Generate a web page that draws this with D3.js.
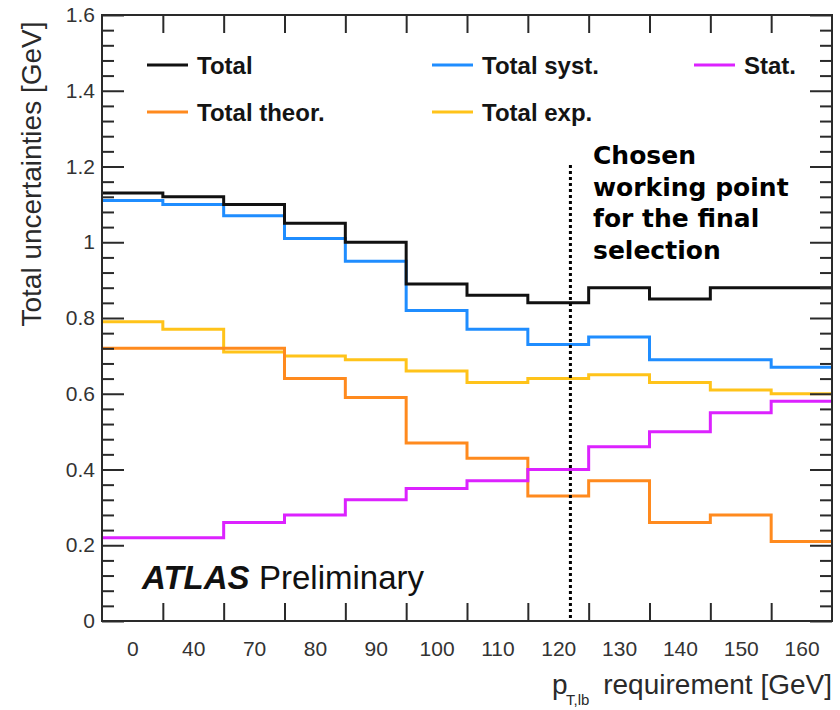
<!DOCTYPE html>
<html>
<head>
<meta charset="utf-8">
<script src="https://cdn.jsdelivr.net/npm/d3@7"></script>
<style>
  html, body { margin: 0; padding: 0; background: #fff; }
  svg { display: block; }
  .sans { font-family: "Liberation Sans", Arial, Helvetica, sans-serif; }
</style>
</head>
<body>
<svg id="chart" width="840" height="710"></svg>
<script>
// pT,lb requirement bins (labels drawn at bin centres)
const binLabels = ["0", "40", "70", "80", "90", "100", "110", "120", "130", "140", "150", "160"];

// Uncertainty components per bin [GeV]
const totalUnc = [1.13, 1.12, 1.10, 1.05, 1.00, 0.89, 0.86, 0.84, 0.88, 0.85, 0.88, 0.88];
const systUnc  = [1.11, 1.10, 1.07, 1.01, 0.95, 0.82, 0.77, 0.73, 0.75, 0.69, 0.69, 0.67];
const statUnc  = [0.22, 0.22, 0.26, 0.28, 0.32, 0.35, 0.37, 0.40, 0.46, 0.50, 0.55, 0.58];
const theorUnc = [0.72, 0.72, 0.72, 0.64, 0.59, 0.47, 0.43, 0.33, 0.37, 0.26, 0.28, 0.21];
const expUnc   = [0.79, 0.77, 0.71, 0.70, 0.69, 0.66, 0.63, 0.64, 0.65, 0.63, 0.61, 0.60];

const seriesNames = ["Total", "Total syst.", "Stat.", "Total theor.", "Total exp."];
const yTicks = [0, 0.2, 0.4, 0.6, 0.8, 1, 1.2, 1.4, 1.6];

// Chosen working point, in bin units along the x axis
const workingPoint = 7.7;

const colors = {
  "Total": "#111111",
  "Total syst.": "#1f8dff",
  "Stat.": "#dc22ff",
  "Total theor.": "#ff8a1e",
  "Total exp.": "#ffc31a"
};
const seriesData = {
  "Total": totalUnc,
  "Total syst.": systUnc,
  "Stat.": statUnc,
  "Total theor.": theorUnc,
  "Total exp.": expUnc
};

const svg = d3.select("#chart");
const L = 102, R = 832, T = 15, B = 621;
const frameColor = "#2a2a2a";

const x = d3.scaleLinear().domain([0, binLabels.length]).range([L, R]);
const y = d3.scaleLinear().domain([0, 1.6]).range([B, T]);

// ---- step histograms ----
const line = d3.line()
  .x(d => x(d[0]))
  .y(d => y(d[1]))
  .curve(d3.curveStepAfter);

const drawOrder = ["Total exp.", "Total theor.", "Stat.", "Total syst.", "Total"];
drawOrder.forEach(name => {
  const vals = seriesData[name];
  const pts = vals.map((v, i) => [i, v]);
  pts.push([vals.length, vals[vals.length - 1]]);
  svg.append("path")
    .attr("d", line(pts))
    .attr("fill", "none")
    .attr("stroke", colors[name])
    .attr("stroke-width", 3);
});

// ---- axes (ticks pointing inward, ROOT style) ----
const edges = d3.range(1, binLabels.length);
const minorY = d3.range(0, 81).map(i => i * 0.02).filter(v => Math.round(v * 100) % 4 === 0 && Math.round(v * 100) % 20 !== 0);

function styleAxis(g) {
  g.selectAll(".domain").remove();
  g.selectAll(".tick line").attr("stroke", frameColor).attr("stroke-width", 2);
}

// bottom edge ticks
svg.append("g").attr("transform", `translate(0,${B})`)
  .call(d3.axisBottom(x).tickValues(edges).tickSizeInner(-18).tickFormat(""))
  .call(styleAxis);
// top edge ticks
svg.append("g").attr("transform", `translate(0,${T})`)
  .call(d3.axisTop(x).tickValues(edges).tickSizeInner(-18).tickFormat(""))
  .call(styleAxis);

// bin labels at bin centres
const xl = svg.append("g").attr("transform", `translate(0,${B})`)
  .call(d3.axisBottom(x)
    .tickValues(binLabels.map((_, i) => i + 0.5))
    .tickSize(0).tickPadding(20)
    .tickFormat((d, i) => binLabels[i]));
xl.select(".domain").remove();
xl.selectAll("text")
  .attr("class", "sans")
  .style("font-size", "21px")
  .attr("fill", "#333");

// left axis: major with labels, minor without
const yl = svg.append("g").attr("transform", `translate(${L},0)`)
  .call(d3.axisLeft(y).tickValues(yTicks).tickSizeInner(-22).tickPadding(7)
    .tickFormat(d => d3.format("~g")(d)));
styleAxis(yl);
yl.selectAll("text")
  .attr("class", "sans")
  .style("font-size", "21px")
  .attr("fill", "#333");
svg.append("g").attr("transform", `translate(${L},0)`)
  .call(d3.axisLeft(y).tickValues(minorY).tickSizeInner(-12).tickFormat(""))
  .call(styleAxis);

// right axis ticks
svg.append("g").attr("transform", `translate(${R},0)`)
  .call(d3.axisRight(y).tickValues(yTicks).tickSizeInner(-22).tickFormat(""))
  .call(styleAxis);
svg.append("g").attr("transform", `translate(${R},0)`)
  .call(d3.axisRight(y).tickValues(minorY).tickSizeInner(-12).tickFormat(""))
  .call(styleAxis);

// frame
svg.append("rect")
  .attr("x", L).attr("y", T)
  .attr("width", R - L).attr("height", B - T)
  .attr("fill", "none")
  .attr("stroke", frameColor)
  .attr("stroke-width", 2);

// ---- working point marker ----
svg.append("line")
  .attr("x1", x(workingPoint)).attr("x2", x(workingPoint))
  .attr("y1", 165).attr("y2", B)
  .attr("stroke", "#000")
  .attr("stroke-width", 3)
  .attr("stroke-dasharray", "3,3");

const note = svg.append("text")
  .attr("x", 593)
  .attr("y", 164)
  .style("font-family", "'DejaVu Sans', sans-serif")
  .style("font-weight", "bold")
  .style("font-size", "25px")
  .attr("fill", "#000");
["Chosen", "working point", "for the final", "selection"].forEach((t, i) => {
  note.append("tspan").attr("x", 593).attr("dy", i === 0 ? 0 : 31.5).text(t);
});

// ---- legend ----
const legendItems = [
  { name: "Total", lx: 147, ly: 65 },
  { name: "Total syst.", lx: 432, ly: 65 },
  { name: "Stat.", lx: 694, ly: 65 },
  { name: "Total theor.", lx: 147, ly: 112 },
  { name: "Total exp.", lx: 432, ly: 112 }
];
legendItems.forEach(it => {
  svg.append("line")
    .attr("x1", it.lx).attr("x2", it.lx + 41)
    .attr("y1", it.ly).attr("y2", it.ly)
    .attr("stroke", colors[it.name])
    .attr("stroke-width", 3);
  svg.append("text")
    .attr("class", "sans")
    .attr("x", it.lx + 50)
    .attr("y", it.ly + 8.5)
    .style("font-size", "24px")
    .style("font-weight", "bold")
    .attr("fill", "#141414")
    .text(it.name);
});

// ---- ATLAS label ----
svg.append("text")
  .attr("class", "sans")
  .attr("x", 142).attr("y", 589)
  .style("font-size", "33px")
  .style("font-weight", "bold")
  .style("font-style", "italic")
  .attr("fill", "#111")
  .text("ATLAS");
svg.append("text")
  .attr("class", "sans")
  .attr("x", 259).attr("y", 589)
  .style("font-size", "33px")
  .attr("fill", "#111")
  .text("Preliminary");

// ---- axis titles ----
svg.append("text")
  .attr("class", "sans")
  .attr("transform", "translate(41,174) rotate(-90)")
  .attr("text-anchor", "middle")
  .style("font-size", "28px")
  .attr("fill", "#2a2a2a")
  .text("Total uncertainties [GeV]");

svg.append("text")
  .attr("class", "sans")
  .attr("x", 552).attr("y", 694)
  .style("font-size", "28px")
  .attr("fill", "#2a2a2a")
  .text("p");
svg.append("text")
  .attr("class", "sans")
  .attr("x", 566).attr("y", 705)
  .style("font-size", "15px")
  .attr("fill", "#2a2a2a")
  .text("T,lb");
svg.append("text")
  .attr("class", "sans")
  .attr("x", 832).attr("y", 694)
  .attr("text-anchor", "end")
  .style("font-size", "28px")
  .attr("fill", "#2a2a2a")
  .text("requirement [GeV]");
</script>
</body>
</html>
